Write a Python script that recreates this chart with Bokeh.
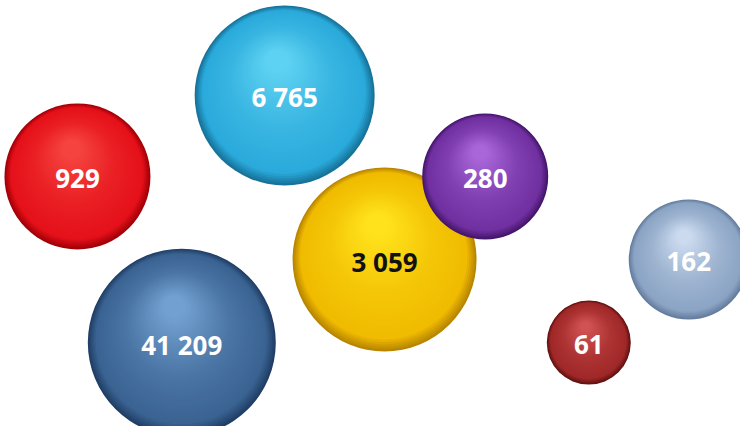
import numpy as np
from bokeh.plotting import figure
from bokeh.models import ColumnDataSource, Range1d
from bokeh.core.properties import value
from bokeh.embed import file_html
from bokeh.resources import INLINE

# ---- data ----
labels = ["929", "6 765", "3 059", "280", "41 209", "162", "61"]
values = [929, 6765, 3059, 280, 41209, 162, 61]
x_vals = [10.4, 38.4, 51.9, 65.5, 24.5, 93.0, 79.5]
y_vals = [58.7, 77.7, 39.2, 58.7, 19.7, 39.2, 19.7]
bubble_size = [146, 180, 184, 126, 188, 120, 84]

# ---- styles ----
edge_colors = ["#a30008", "#17739a", "#b98600", "#45166c", "#213f66", "#657d9e", "#621212"]
main_colors = ["#e5111a", "#2aaadb", "#f0bb00", "#7030a0", "#3a6392", "#8ba4c4", "#a02828"]
high_colors = ["#f5443f", "#5ed2f2", "#ffe21c", "#a866d8", "#72a0d0", "#cbdaee", "#d05252"]
text_colors = ["white", "white", "#111111", "white", "white", "white", "white"]

W, H = 740, 426
XR, YR = 100.0, 100.0


def hex2rgb(h):
    h = h.lstrip("#")
    return np.array([int(h[i:i + 2], 16) for i in (0, 2, 4)], dtype=float)


def rgb2hex(c):
    c = np.clip(np.round(c), 0, 255).astype(int)
    return "#%02x%02x%02x" % tuple(c)


def profile(t, e, m, h):
    e, m, h = hex2rgb(e), hex2rgb(m), hex2rgb(h)
    if t < 0.10:
        return rgb2hex(e + (m - e) * (t / 0.10))
    mid = m + (h - m) * 0.3
    if t < 0.5:
        return rgb2hex(m + (mid - m) * ((t - 0.10) / 0.40))
    return rgb2hex(mid + (h - mid) * ((t - 0.5) / 0.5))


lx, ly, ls, lc = [], [], [], []
N = 50
for i in range(len(values)):
    r = bubble_size[i] / 2.0
    hx_px, hy_px = -0.08 * r, 0.38 * r
    for k in range(N):
        t = k / (N - 1)
        rad = r * (1 - 0.88 * t)
        lx.append(x_vals[i] + t * hx_px * XR / W)
        ly.append(y_vals[i] + t * hy_px * YR / H)
        ls.append(2 * rad)
        lc.append(profile(t, edge_colors[i], main_colors[i], high_colors[i]))

layers = ColumnDataSource(dict(x=lx, y=ly, size=ls, color=lc))
text_src = ColumnDataSource(dict(x=x_vals, y=y_vals, text=labels, color=text_colors))

p = figure(width=W, height=H, output_backend="svg", toolbar_location=None,
           x_range=Range1d(0, XR), y_range=Range1d(0, YR), min_border=0)
p.axis.visible = False
p.grid.visible = False
p.outline_line_color = None
p.background_fill_color = "white"
p.border_fill_color = "white"

p.scatter("x", "y", size="size", source=layers, marker="circle",
          fill_color="color", line_color=None)
p.text("x", "y", text="text", source=text_src, text_color="color",
       text_align="center", text_baseline="middle", y_offset=2,
       text_font=value("Open Sans"), text_font_style="bold", text_font_size="26px")

open("out.html", "w").write(file_html(p, INLINE))
